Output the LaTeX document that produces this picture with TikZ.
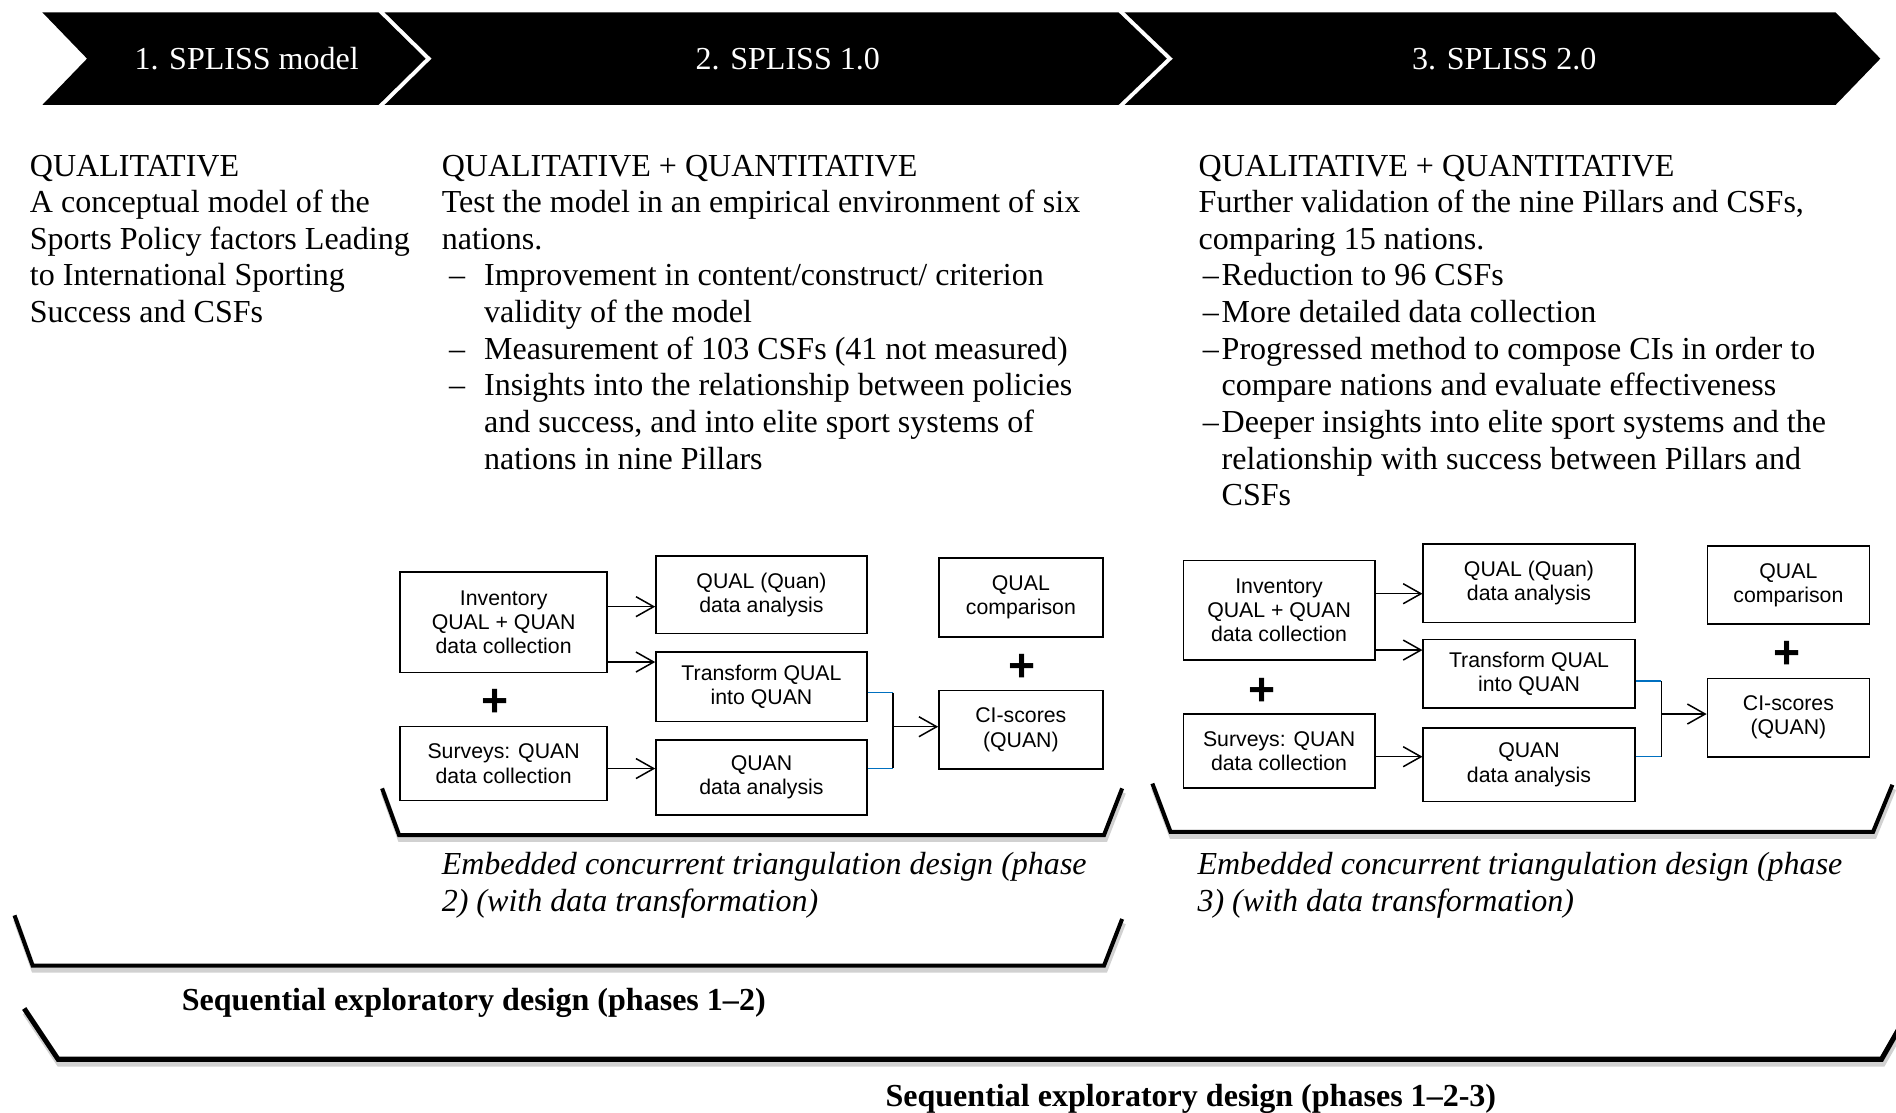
\documentclass[tikz,border=0pt]{standalone}
\usepackage{fontspec}
\setmainfont{Liberation Serif}
\newfontfamily\arialf{Liberation Sans}
\usetikzlibrary{arrows.meta}
\definecolor{lnblue}{RGB}{0,112,192}
\begin{document}
\begin{tikzpicture}[x=0.6pt,y=-0.6pt,
  body/.style={anchor=base west, inner sep=0pt, text width=560pt, align=flush left, font=\fontsize{15.9}{18.18}\selectfont},
  headtxt/.style={anchor=base, inner sep=0pt, text=white, font=\fontsize{15.9}{18.18}\selectfont},
  box/.style={draw, line width=0.75pt, inner sep=0pt, align=center, font=\arialf\fontsize{10.56}{12}\selectfont},
  plussign/.style={inner sep=0pt, font=\arialf\bfseries\fontsize{23}{23}\selectfont},
  conn/.style={line width=0.75pt},
  arr/.style={line width=0.75pt, -{Straight Barb[length=8.8pt,width=9.9pt,line width=0.75pt]}},
  blueln/.style={line width=0.75pt, draw=lnblue},
  brk/.style={line width=2pt, line join=miter},
  brkshadow/.style={line width=2.6pt, draw=black!18, shift={(1,3.5)}}
]
\useasboundingbox (0,0) rectangle (1568,920.4);
\clip (0,0) rectangle (1568,920.4);

% ---------- header chevrons ----------
\fill[black] (35,10.2) -- (313,10.2) -- (352,48.5) -- (313,86.8) -- (35,86.8) -- (72,48.5) -- cycle;
\fill[black] (318,10.2) -- (925,10.2) -- (965,48.5) -- (925,86.8) -- (318,86.8) -- (357,48.5) -- cycle;
\fill[black] (930,10.2) -- (1518,10.2) -- (1555,48.5) -- (1518,86.8) -- (930,86.8) -- (970,48.5) -- cycle;
\node[headtxt] (h1) at (204,57.5) {1. SPLISS model};
\node[headtxt] (h2) at (651.5,57.5) {2. SPLISS 1.0};
\node[headtxt] (h3) at (1244,57.5) {3. SPLISS 2.0};

% ---------- column texts ----------
\node[body] (c1) at (24.4,145.6) {QUALITATIVE\\A conceptual model of the\\Sports Policy factors Leading\\to International Sporting\\Success and CSFs};

\node[body] (c2) at (365,145.6) {QUALITATIVE + QUANTITATIVE\\Test the model in an empirical environment of six\\nations.};
\node[body, text width=20pt] (c2d1) at (371,236.5) {–};
\node[body] (c2b1) at (400,236.5) {Improvement in content/construct/ criterion\\validity of the model};
\node[body, text width=20pt] (c2d2) at (371,297.1) {–};
\node[body] (c2b2) at (400,297.1) {Measurement of 103 CSFs (41 not measured)};
\node[body, text width=20pt] (c2d3) at (371,327.4) {–};
\node[body] (c2b3) at (400,327.4) {Insights into the relationship between policies\\and success, and into elite sport systems of\\nations in nine Pillars};

\node[body] (c3) at (991,145.6) {QUALITATIVE + QUANTITATIVE\\Further validation of the nine Pillars and CSFs,\\comparing 15 nations.};
\node[body, text width=20pt] (c3d1) at (994.5,236.5) {–};
\node[body] (c3b1) at (1010,236.5) {Reduction to 96 CSFs};
\node[body, text width=20pt] (c3d2) at (994.5,266.8) {–};
\node[body] (c3b2) at (1010,266.8) {More detailed data collection};
\node[body, text width=20pt] (c3d3) at (994.5,297.1) {–};
\node[body] (c3b3) at (1010,297.1) {Progressed method to compose CIs in order to\\compare nations and evaluate effectiveness};
\node[body, text width=20pt] (c3d4) at (994.5,357.7) {–};
\node[body] (c3b4) at (1010,357.7) {Deeper insights into elite sport systems and the\\relationship with success between Pillars and\\CSFs};

% ---------- phase 2 diagram ----------
\node[box, minimum width=102.6pt, minimum height=49.8pt] (inv2) at (416.5,514.5) {Inventory\\QUAL + QUAN\\data collection};
\node[box, minimum width=102.6pt, minimum height=36.6pt] (sv2) at (416.5,631.5) {Surveys: QUAN\\data collection};
\node[box, minimum width=104.7pt, minimum height=38.4pt] (qq2) at (629.75,492) {QUAL (Quan)\\data analysis};
\node[box, minimum width=104.7pt, minimum height=34.5pt] (tr2) at (629.75,567.75) {Transform QUAL\\into QUAN};
\node[box, minimum width=104.7pt, minimum height=37.2pt] (qn2) at (629.75,643) {QUAN\\data analysis};
\node[box, minimum width=81.3pt, minimum height=39.3pt] (qc2) at (844.25,494.25) {QUAL\\comparison};
\node[box, minimum width=81.3pt, minimum height=39pt] (ci2) at (844.25,603.5) {CI-scores\\(QUAN)};
\node[plussign] (p2a) at (409,581) {+};
\node[plussign] (p2b) at (845,552) {+};

\draw[arr] (inv2.east |- 0,501.7) -- (qq2.west |- 0,501.7);
\draw[arr] (inv2.east |- 0,547.5) -- (tr2.west |- 0,547.5);
\draw[arr] (sv2.east |- 0,635.6) -- (qn2.west |- 0,635.6);
\coordinate (j2t) at (738.3,572.8);
\coordinate (j2b) at (738.3,635.4);
\coordinate (j2m) at (738.3,601);
\draw[blueln] (tr2.east |- j2t) -- (j2t);
\draw[blueln] (qn2.east |- j2b) -- (j2b);
\draw[conn] (j2t) -- (j2b);
\draw[arr] (j2m) -- (ci2.west |- j2m);

% ---------- phase 3 diagram ----------
\node[box, minimum width=95pt, minimum height=49.3pt] (inv3) at (1057.8,504.75) {Inventory\\QUAL + QUAN\\data collection};
\node[box, minimum width=95pt, minimum height=36.7pt] (sv3) at (1057.8,621.1) {Surveys: QUAN\\data collection};
\node[box, minimum width=105pt, minimum height=38.8pt] (qq3) at (1264.5,482.35) {QUAL (Quan)\\data analysis};
\node[box, minimum width=105pt, minimum height=34pt] (tr3) at (1264.5,557.3) {Transform QUAL\\into QUAN};
\node[box, minimum width=105pt, minimum height=36.6pt] (qn3) at (1264.5,632.5) {QUAN\\data analysis};
\node[box, minimum width=80.4pt, minimum height=38.6pt] (qc3) at (1479,483.8) {QUAL\\comparison};
\node[box, minimum width=80.4pt, minimum height=39pt] (ci3) at (1479,593.5) {CI-scores\\(QUAN)};
\node[plussign] (p3a) at (1044,572) {+};
\node[plussign] (p3b) at (1478,542) {+};

\draw[arr] (inv3.east |- 0,491) -- (qq3.west |- 0,491);
\draw[arr] (inv3.east |- 0,537.6) -- (tr3.west |- 0,537.6);
\draw[arr] (sv3.east |- 0,625.8) -- (qn3.west |- 0,625.8);
\coordinate (j3t) at (1374,563);
\coordinate (j3b) at (1374,625.8);
\coordinate (j3m) at (1374,590.5);
\draw[blueln] (tr3.east |- j3t) -- (j3t);
\draw[blueln] (qn3.east |- j3b) -- (j3b);
\draw[conn] (j3t) -- (j3b);
\draw[arr] (j3m) -- (ci3.west |- j3m);

% ---------- brackets ----------
\draw[brkshadow] (316,652) -- (330,690.6) -- (913,690.6) -- (928,652);
\draw[brk] (316,652) -- (330,690.6) -- (913,690.6) -- (928,652);
\draw[brkshadow] (953,648) -- (968,688) -- (1549,688) -- (1565,649);
\draw[brk] (953,648) -- (968,688) -- (1549,688) -- (1565,649);
\draw[brkshadow] (12,757) -- (27,798.6) -- (913,798.6) -- (928,760);
\draw[brk] (12,757) -- (27,798.6) -- (913,798.6) -- (928,760);
\draw[brkshadow, line width=3pt] (20,834) -- (48,876) -- (1556,876) -- (1580,834);
\draw[brk, line width=2.5pt] (20,834) -- (48,876) -- (1556,876) -- (1580,834);

% ---------- captions ----------
\node[body, font=\itshape\fontsize{15.9}{18.18}\selectfont] (cap2) at (365,723.6) {Embedded concurrent triangulation design (phase\\2) (with data transformation)};
\node[body, font=\itshape\fontsize{15.9}{18.18}\selectfont] (cap3) at (990,723.6) {Embedded concurrent triangulation design (phase\\3) (with data transformation)};
\node[body, font=\bfseries\fontsize{15.9}{18.18}\selectfont] (seq12) at (150,835.3) {Sequential exploratory design (phases 1–2)};
\node[body, font=\bfseries\fontsize{15.9}{18.18}\selectfont] (seq123) at (732,915.3) {Sequential exploratory design (phases 1–2-3)};
\end{tikzpicture}
\end{document}
